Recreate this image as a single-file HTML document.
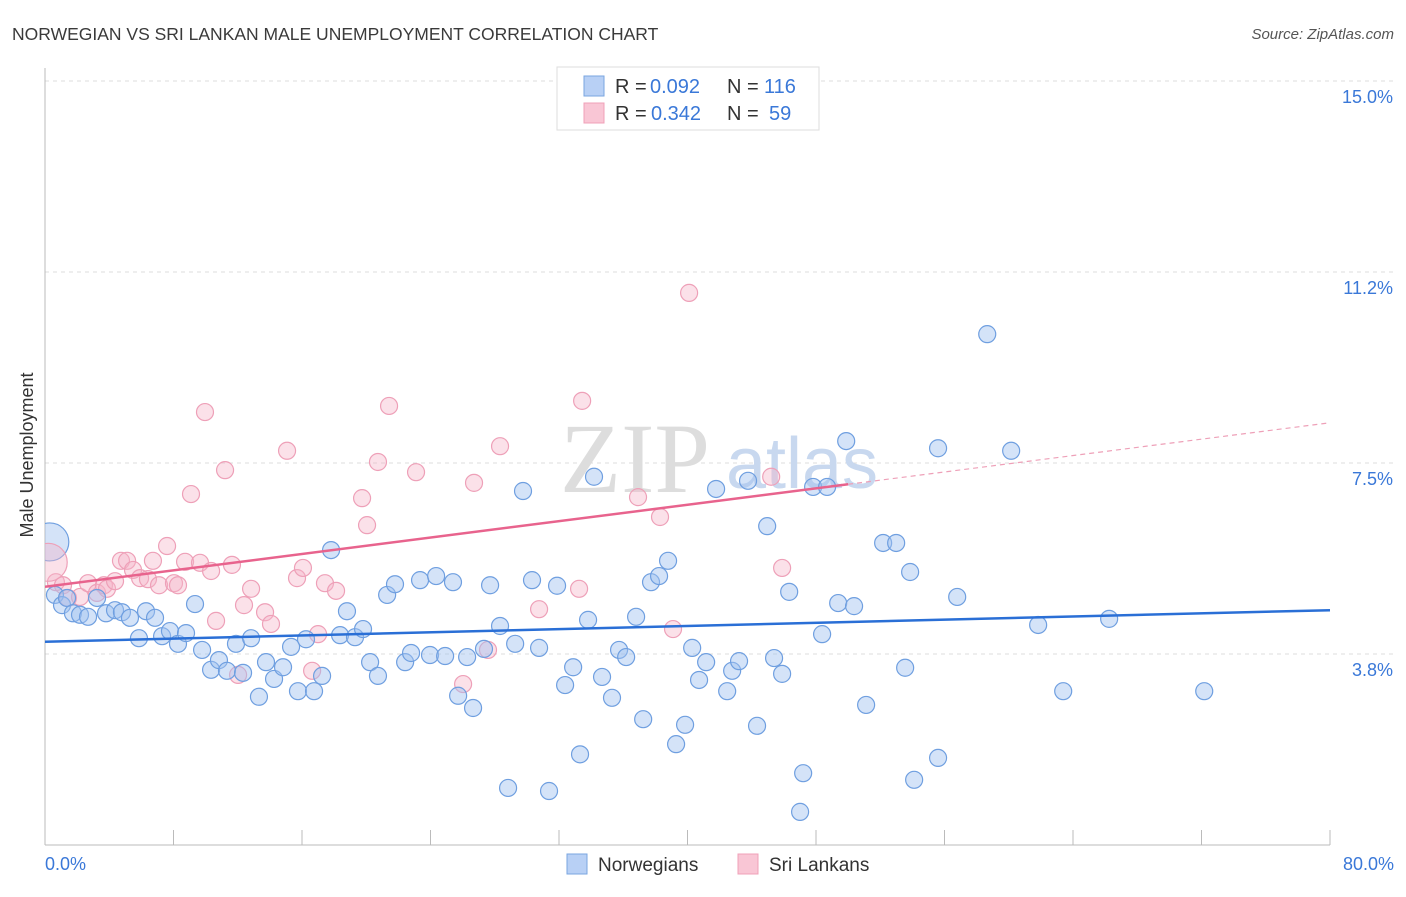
<!DOCTYPE html>
<html><head><meta charset="utf-8"><style>
body{margin:0;background:#fff;font-family:"Liberation Sans",sans-serif;}
</style></head><body>
<svg id="chart" width="1406" height="892" xmlns="http://www.w3.org/2000/svg">
<text x="12" y="40" font-size="17.5" fill="#3a3a3a">NORWEGIAN VS SRI LANKAN MALE UNEMPLOYMENT CORRELATION CHART</text>
<text x="1394" y="39" font-size="15" fill="#555" text-anchor="end" font-style="italic">Source: ZipAtlas.com</text>
<g id="grid"></g>
<g>
<text x="635" y="492" font-family="Liberation Serif,serif" font-size="100" fill="#ddd" text-anchor="middle">ZIP</text>
<text x="802" y="488" font-size="72" fill="#c8d8ef" text-anchor="middle">atlas</text>
</g>
<text transform="translate(33,455) rotate(-90)" font-size="18" fill="#333" text-anchor="middle">Male Unemployment</text>
<defs><clipPath id="pc"><rect x="45" y="60" width="1300" height="786"/></clipPath></defs>
<g id="marks" clip-path="url(#pc)"></g>
<g>
<rect x="557" y="67" width="262" height="63" fill="#fff" stroke="#ddd"/>
<rect x="584" y="76" width="20" height="20" fill="#b8d0f5" stroke="#7aa6e0"/>
<rect x="584" y="103" width="20" height="20" fill="#f9c6d5" stroke="#f0a0b8"/>
<text x="615" y="93" font-size="20" fill="#333">R =</text>
<text x="650" y="93" font-size="20" fill="#3a78d8">0.092</text>
<text x="727" y="93" font-size="20" fill="#333">N =</text>
<text x="764" y="93" font-size="20" fill="#3a78d8">116</text>
<text x="615" y="120" font-size="20" fill="#333">R =</text>
<text x="651" y="120" font-size="20" fill="#3a78d8">0.342</text>
<text x="727" y="120" font-size="20" fill="#333">N =</text>
<text x="769" y="120" font-size="20" fill="#3a78d8">59</text>
</g>
<g>
<rect x="567" y="854" width="20" height="20" fill="#b8d0f5" stroke="#7aa6e0"/>
<text x="598" y="871" font-size="19" fill="#333">Norwegians</text>
<rect x="738" y="854" width="20" height="20" fill="#f9c6d5" stroke="#f0a0b8"/>
<text x="769" y="871" font-size="19" fill="#333">Sri Lankans</text>
</g>
</svg>
<script>
const yTicks=[3.75,7.5,11.25,15];
const yTickLabels=["3.8%","7.5%","11.2%","15.0%"];
const xTickLabels=["0.0%","80.0%"];
const blueX=[0.62,1.06,1.37,1.74,2.18,2.68,3.24,3.80,4.36,4.79,5.29,5.85,6.29,6.85,7.29,7.78,8.28,8.78,9.34,9.78,10.34,10.83,11.33,11.89,12.33,12.83,13.32,13.76,14.26,14.82,15.32,15.75,16.25,16.75,17.25,17.81,18.37,18.80,19.30,19.80,20.24,20.73,21.30,21.79,22.42,22.79,23.35,23.97,24.35,24.91,25.40,25.72,26.28,26.65,27.33,27.71,28.33,28.83,29.27,29.76,30.32,30.76,31.38,31.88,32.38,32.88,33.31,33.81,34.18,34.68,35.30,35.74,36.18,36.80,37.24,37.73,38.23,38.79,39.29,39.85,40.29,40.72,41.16,41.78,42.47,42.78,43.21,43.77,44.33,44.96,45.39,45.89,46.33,47.01,47.20,47.82,48.38,48.69,49.38,49.88,50.37,51.12,52.18,52.99,53.55,53.86,54.11,55.60,55.60,56.79,58.66,60.15,61.83,63.39,66.25,72.17];
const blueY=[4.91,4.71,4.85,4.55,4.52,4.48,4.85,4.55,4.61,4.57,4.46,4.06,4.59,4.46,4.10,4.20,3.95,4.16,4.73,3.83,3.44,3.63,3.42,3.95,3.38,4.06,2.91,3.59,3.26,3.49,3.89,3.02,4.04,3.02,3.32,5.79,4.12,4.59,4.08,4.24,3.59,3.32,4.91,5.12,3.59,3.77,5.20,3.73,5.28,3.71,5.16,2.93,3.69,2.69,3.85,5.10,4.30,1.12,3.95,6.95,5.20,3.87,1.06,5.09,3.14,3.49,1.78,4.42,7.23,3.30,2.89,3.83,3.69,4.48,2.47,5.16,5.28,5.58,1.98,2.36,3.87,3.24,3.59,6.99,3.02,3.42,3.61,7.15,2.34,6.26,3.67,3.36,4.97,0.65,1.41,7.03,4.14,7.03,4.75,7.93,4.69,2.75,5.93,5.93,3.48,5.36,1.28,7.79,1.71,4.87,10.03,7.74,4.32,3.02,4.44,3.02];
const pinkX=[0.68,1.12,1.43,2.18,2.68,3.24,3.67,3.86,4.36,4.73,5.11,5.48,5.92,6.41,6.72,7.10,7.60,8.03,8.28,8.72,9.09,9.65,9.96,10.34,10.65,11.21,11.64,12.02,12.39,12.83,13.70,14.07,15.07,15.69,16.06,16.63,17.00,17.43,18.12,19.74,20.05,20.73,21.42,23.10,26.03,26.71,27.58,28.33,30.76,33.25,33.44,36.92,38.29,39.10,40.10,45.21,45.89];
const pinkY=[5.16,5.10,4.85,4.87,5.14,4.95,5.10,5.03,5.18,5.58,5.58,5.40,5.24,5.22,5.58,5.10,5.87,5.14,5.10,5.56,6.89,5.54,8.50,5.38,4.40,7.36,5.50,3.34,4.71,5.03,4.57,4.34,7.74,5.24,5.44,3.42,4.14,5.14,4.99,6.81,6.28,7.52,8.62,7.32,3.16,7.11,3.83,7.83,4.63,5.03,8.72,6.83,6.44,4.24,10.84,7.23,5.44];
const bigBlue=[0.3,5.95];
const bigPink=[0.2,5.55];
const blueTrend=[3.99,4.61];
const pinkTrend=[5.07,8.29];
const pinkSolidEnd=50;

const NS="http://www.w3.org/2000/svg";
const X=v=>45+v*1285/80;
const Y=v=>654-(v-3.75)*573/11.25;
function mk(tag,attrs,parent){const e=document.createElementNS(NS,tag);for(const k in attrs)e.setAttribute(k,attrs[k]);parent.appendChild(e);return e;}
const grid=document.getElementById('grid');
const marks=document.getElementById('marks');
yTicks.forEach((t,i)=>{
  const l=mk('line',{x1:45,x2:1394,y1:Y(t),y2:Y(t),stroke:'#ddd','stroke-dasharray':'4,4'},grid);
  
  
  const tx=mk('text',{x:1393,y:Y(t)+22,'font-size':18,fill:'#3a78d8','text-anchor':'end'},grid);
  tx.textContent=yTickLabels[i];
  
  
});
const ax=mk('line',{x1:45,x2:45,y1:68,y2:845,stroke:'#bbb'},grid);


const bx=mk('line',{x1:45,x2:1330,y1:845,y2:845,stroke:'#bbb'},grid);


for(let i=0;i<=10;i++){
  const t=mk('line',{x1:X(i*8),x2:X(i*8),y1:830,y2:845,stroke:'#bbb'},grid);
  
  
}
[[0,'start',45],[80,'end',1394]].forEach((d,i)=>{
  const t=mk('text',{x:d[2],y:870,'font-size':18,fill:'#3a78d8','text-anchor':d[1]},grid);
  t.textContent=xTickLabels[i];
  
  
});
function dot(x,y,r,blue){
  const c=mk('circle',{cx:X(x),cy:Y(y),r:r,fill:blue?'rgba(160,192,240,0.45)':'rgba(246,180,200,0.4)',stroke:blue?'#6f9fe0':'#eea0b8','stroke-width':1.2},marks);
  return c;
}
pinkX.forEach((x,i)=>{const c=dot(x,pinkY[i],8.5,false);
  
  });
blueX.forEach((x,i)=>{const c=dot(x,blueY[i],8.5,true);
  
  });
const bb=dot(bigBlue[0],bigBlue[1],19,true);


const bp=dot(bigPink[0],bigPink[1],19,false);


const bl=mk('line',{x1:X(0),y1:Y(blueTrend[0]),x2:X(80),y2:Y(blueTrend[1]),stroke:'#2a6fd6','stroke-width':2.5},marks);


const pm=pinkTrend[0]+(pinkTrend[1]-pinkTrend[0])*pinkSolidEnd/80;
const pl=mk('line',{x1:X(0),y1:Y(pinkTrend[0]),x2:X(pinkSolidEnd),y2:Y(pm),stroke:'#e8638d','stroke-width':2.5},marks);


const pd=mk('line',{x1:X(pinkSolidEnd),y1:Y(pm),x2:X(80),y2:Y(pinkTrend[1]),stroke:'#eea0b8','stroke-width':1.2,'stroke-dasharray':'5,4'},marks);


</script>
</body></html>
